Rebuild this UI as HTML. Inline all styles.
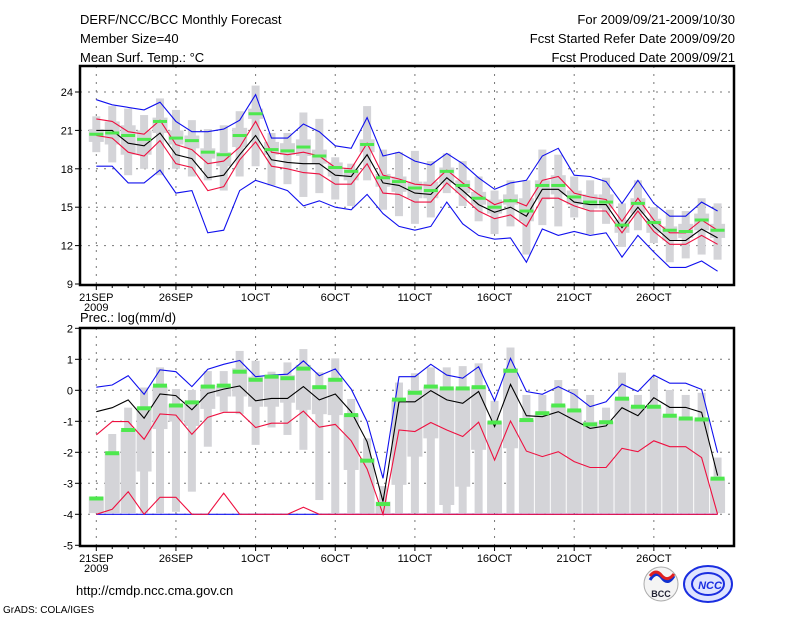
<!DOCTYPE html>
<html><head><meta charset="utf-8"><style>
html,body{margin:0;padding:0;background:#fff;}
svg{display:block;font-family:"Liberation Sans",sans-serif;}
</style></head><body>
<svg id="chart" width="800" height="618" viewBox="0 0 800 618" xmlns="http://www.w3.org/2000/svg">
<rect x="0" y="0" width="800" height="618" fill="#fff"/>
<g font-size="13" fill="#000">
<text x="80" y="24">DERF/NCC/BCC Monthly Forecast</text>
<text x="80" y="43">Member Size=40</text>
<text x="80" y="62">Mean Surf. Temp.: °C</text>
<text x="735" y="24" text-anchor="end">For 2009/09/21-2009/10/30</text>
<text x="735" y="43" text-anchor="end">Fcst Started Refer Date 2009/09/20</text>
<text x="735" y="62" text-anchor="end">Fcst Produced Date 2009/09/21</text>
<text x="80" y="322">Prec.: log(mm/d)</text>
<text x="76" y="595">http://cmdp.ncc.cma.gov.cn</text>
<text x="3" y="613" font-size="10">GrADS: COLA/IGES</text>
</g>
<g id="temp"></g>
<g id="prec"></g>
<g>
<circle cx="661" cy="584" r="17" fill="#f4f4f4" stroke="#aaa"/>
<path d="M650 580 q6 -10 12 -2 q6 8 12 -2" stroke="#1030d0" stroke-width="3" fill="none"/>
<path d="M650 576 q6 -8 12 0 q6 6 12 -2" stroke="#e02020" stroke-width="3" fill="none"/>
<text x="661" y="597" font-size="9" text-anchor="middle" font-weight="bold" fill="#223">BCC</text>
</g>
<g>
<ellipse cx="708" cy="584" rx="24" ry="18" fill="#dfe4ff" stroke="#1a2ee0" stroke-width="2"/>
<ellipse cx="708" cy="584" rx="16" ry="11" fill="none" stroke="#1a2ee0" stroke-width="2"/>
<text x="710" y="589" font-size="11" text-anchor="middle" font-weight="bold" font-style="italic" fill="#1a2ee0">NCC</text>
</g>
</svg>
<script>
// ---- temperature panel data ----
const days = 40;
const xTickLabels = ["21SEP","26SEP","1OCT","6OCT","11OCT","16OCT","21OCT","26OCT"];
const tempTicks = [9,12,15,18,21,24];
const tempBlueTop = [23.4,23.0,22.8,22.6,23.2,21.7,20.9,20.9,21.1,21.8,23.8,20.4,20.4,21.5,20.9,19.8,19.6,22.0,19.0,19.3,18.6,18.3,19.2,18.4,17.3,16.4,16.9,17.1,19.0,19.6,17.5,17.4,17.0,15.3,17.1,15.3,14.3,14.3,15.4,14.7];
const tempRedTop = [21.9,21.7,20.9,20.7,21.8,19.9,19.5,18.4,18.6,19.7,21.7,19.3,19.1,19.3,19.0,18.1,18.0,20.0,17.5,17.2,16.8,16.7,17.9,16.9,16.0,15.2,15.6,15.1,17.1,17.4,16.1,15.8,15.6,13.9,15.7,14.0,13.0,13.0,14.0,13.2];
const tempMean = [21.0,21.0,20.0,19.8,20.8,19.1,18.8,17.3,17.5,19.1,20.6,18.7,18.5,18.4,18.4,17.5,17.4,19.1,16.9,16.7,16.1,16.0,17.3,16.3,15.2,14.6,15.0,14.3,16.4,16.4,15.4,15.2,15.2,13.4,15.0,13.5,12.4,12.4,13.3,12.6];
const tempRedBot = [20.6,20.4,19.3,19.0,20.2,18.4,18.1,16.3,16.6,18.7,20.1,18.2,18.0,17.7,17.6,16.8,16.8,18.4,16.1,16.0,15.4,15.4,16.9,15.8,14.7,14.1,14.4,13.5,15.7,15.7,15.1,14.7,14.7,13.0,14.7,13.1,12.1,12.1,12.8,12.1];
const tempBlueBot = [18.2,18.2,16.9,16.9,17.9,16.1,16.3,13.0,13.2,16.3,17.1,16.7,16.3,15.1,15.5,15.0,14.8,16.0,14.5,13.5,13.2,13.5,15.4,13.7,12.8,12.5,12.6,10.7,13.3,12.8,13.1,12.8,13.0,11.1,12.8,11.5,10.3,10.3,10.8,10.0];
const tempGreen = [20.7,20.8,20.6,20.3,21.7,20.4,20.2,19.3,19.1,20.6,22.3,19.5,19.4,19.7,19.0,18.1,17.8,19.9,17.3,17.0,16.5,16.3,17.8,16.7,15.7,15.0,15.5,14.7,16.7,16.7,15.8,15.4,15.4,13.6,15.3,13.8,13.2,13.1,14.0,13.2];
const tempWhiskHi = [22.1,22.9,22.7,22.2,23.5,22.6,21.8,21.1,21.4,22.5,24.5,20.8,20.8,22.4,21.9,18.9,18.4,22.9,19.5,19.3,19.4,18.6,19.2,18.6,17.4,16.3,17.1,17.1,19.5,19.1,17.4,17.1,17.3,15.3,17.1,15.0,14.8,14.7,15.7,15.3];
const tempWhiskLo = [19.3,18.5,17.5,18.0,17.5,18.0,17.4,17.1,16.3,17.4,18.2,16.7,16.8,15.8,16.1,15.6,15.1,17.1,14.8,14.3,13.7,14.2,16.1,15.1,13.9,12.9,13.5,11.3,13.6,13.5,14.2,12.9,13.7,11.9,13.2,12.2,10.7,11.0,11.3,10.9];
const tempBoxHi = [21.1,21.7,21.4,21.0,22.0,21.0,20.6,19.6,19.3,21.2,22.7,20.1,20.0,20.3,19.5,18.5,18.0,20.3,17.6,17.4,17.0,17.0,18.1,17.1,16.2,15.6,16.0,15.7,17.1,17.5,16.3,16.0,16.0,14.0,15.7,14.1,13.5,13.7,14.5,13.7];
const tempBoxLo = [20.1,19.9,19.1,19.1,20.8,19.9,19.6,18.8,18.2,19.7,21.9,19.1,19.1,19.0,18.4,17.4,17.1,19.3,16.6,16.2,15.7,15.7,16.9,16.1,15.2,14.5,15.2,13.9,15.6,16.0,15.2,14.9,14.9,13.0,14.5,13.0,12.4,12.6,13.2,12.6];
// ---- precipitation panel data ----
const precTicks = [-5,-4,-3,-2,-1,0,1,2];
const precBlueTop = [0.10,0.17,0.47,-0.13,0.66,0.60,0.12,0.68,0.84,0.96,0.44,0.49,0.52,0.95,0.47,0.69,0.04,-1.01,-2.84,0.44,0.44,0.84,0.49,0.39,0.76,-0.34,1.03,-0.04,-0.13,0.12,-0.13,-0.53,-0.37,0.20,-0.04,0.49,0.23,0.23,0.03,-2.01];
const precMean = [-0.69,-0.56,-0.31,-0.90,-0.12,-0.17,-0.63,-0.10,0.04,0.14,-0.34,-0.26,-0.26,0.12,-0.31,-0.12,-0.69,-1.66,-3.59,-0.37,-0.37,-0.01,-0.31,-0.42,-0.04,-1.17,0.19,-0.82,-0.85,-0.69,-0.96,-1.23,-1.15,-0.56,-0.82,-0.24,-0.55,-0.55,-0.71,-2.75];
const precRedTop = [-1.44,-1.01,-1.01,-1.58,-0.76,-0.80,-1.42,-0.87,-0.71,-0.71,-1.20,-1.06,-1.06,-0.67,-1.19,-1.10,-1.63,-2.54,-4.0,-1.28,-1.33,-1.04,-1.28,-1.49,-1.03,-2.25,-0.99,-1.96,-2.14,-1.98,-2.30,-2.49,-2.49,-1.87,-1.98,-1.63,-1.82,-1.82,-2.17,-4.0];
const precRedBot = [-4,-3.84,-3.27,-4,-3.45,-3.45,-4,-4,-3.32,-4,-4,-4,-4,-3.77,-4,-4,-4,-4,-4,-4,-4,-4,-4,-4,-4,-4,-4,-4,-4,-4,-4,-4,-4,-4,-4,-4,-4,-4,-4,-4];
const precBlueBot = [-4,-4,-4,-4,-4,-4,-4,-4,-4,-4,-4,-4,-4,-4,-4,-4,-4,-4,-4,-4,-4,-4,-4,-4,-4,-4,-4,-4,-4,-4,-4,-4,-4,-4,-4,-4,-4,-4,-4,-4];
const precGreen = [-3.49,-2.03,-1.28,-0.58,0.15,-0.49,-0.39,0.12,0.15,0.60,0.34,0.44,0.39,0.70,0.10,0.34,-0.80,-2.27,-3.67,-0.30,-0.08,0.12,0.06,0.06,0.10,-1.04,0.63,-0.96,-0.74,-0.49,-0.65,-1.10,-1.03,-0.27,-0.53,-0.53,-0.82,-0.91,-0.94,-2.85];
const precWhiskHi = [-3.43,-1.41,-0.56,0.09,0.74,0.04,0.01,0.62,0.62,1.27,0.95,0.60,0.90,1.33,0.58,1.03,-0.28,-1.55,-3.09,0.25,0.55,0.74,0.74,0.78,0.87,-0.34,1.38,-0.15,-0.15,0.33,0.04,-0.15,-0.56,0.57,-0.15,0.39,0.01,-0.15,-0.08,-2.17];
const precWhiskLo = [-3.96,-3.96,-3.96,-3.96,-3.96,-3.92,-3.27,-1.82,-0.69,-0.77,-1.76,-1.2,-1.44,-1.92,-3.54,-3.96,-3.96,-3.96,-3.96,-3.96,-3.96,-3.96,-3.96,-3.96,-3.96,-3.96,-3.96,-3.96,-3.96,-3.96,-3.96,-3.96,-3.96,-3.96,-3.96,-3.96,-3.96,-3.96,-3.96,-3.96];
const precBoxHi = [-3.43,-2.03,-1.28,-0.53,0.12,-0.45,-0.34,0.17,0.14,0.71,0.44,0.49,0.49,0.82,0.15,0.39,-0.77,-2.19,-3.59,-0.31,0.01,0.12,0.06,0.06,0.12,-1.01,0.71,-0.96,-0.71,-0.47,-0.63,-1.01,-1.01,-0.26,-0.53,-0.53,-0.82,-0.90,-0.94,-2.84];
const precBoxLo = [-3.96,-3.96,-3.96,-2.62,-1.25,-1.01,-1.15,-0.60,-0.20,-0.20,-0.53,-0.53,-0.40,-0.63,-0.77,-0.80,-2.57,-3.96,-3.96,-3.05,-2.14,-1.55,-3.7,-3.11,-1.92,-3.96,-1.87,-3.96,-3.96,-3.96,-3.96,-3.96,-3.96,-3.96,-3.96,-3.96,-3.96,-3.96,-3.96,-3.96];

const NS = "http://www.w3.org/2000/svg";
const X0 = 80, X1 = 734;
function xScale(d){ return 96.3 + d * 15.93; }
function mk(parent, tag, attrs){ const e = document.createElementNS(NS, tag); for (const k in attrs) e.setAttribute(k, attrs[k]); parent.appendChild(e); return e; }

function drawPanel(g, cfg){
  const y = cfg.y;
  // grid
  cfg.ticks.forEach(function(t){
    const yy = y(t);
    if (yy > cfg.top + 1 && yy < cfg.bot - 1) {
      const l = mk(g, "line", {x1: X0, x2: X1, y1: yy, y2: yy, stroke: "#777", "stroke-width": 1, "stroke-dasharray": "2,6"});
      
      
    }
  });
  for (let i = 0; i < xTickLabels.length; i++) {
    const xx = xScale(i * 5);
    const l = mk(g, "line", {x1: xx, x2: xx, y1: cfg.top, y2: cfg.bot, stroke: "#777", "stroke-width": 1, "stroke-dasharray": "2,6"});
    
    
  }
  // bars
  for (let d = 0; d < days; d++) {
    const cx = xScale(d);
    const w = mk(g, "rect", {x: cx - 4, y: y(cfg.wHi[d]), width: 8, height: Math.max(1, y(cfg.wLo[d]) - y(cfg.wHi[d])), fill: "#d4d4d8"});
    
    
    const b = mk(g, "rect", {x: cx - 7.5, y: y(cfg.bHi[d]), width: 15, height: Math.max(1, y(cfg.bLo[d]) - y(cfg.bHi[d])), fill: "#d4d4d8"});
    
    
  }
  // lines
  cfg.lines.forEach(function(L){
    const pts = L.data.map(function(v, d){ return xScale(d).toFixed(1) + "," + y(v).toFixed(1); }).join(" ");
    const p = mk(g, "polyline", {points: pts, fill: "none", stroke: L.color, "stroke-width": 1.1});
    
    
  });
  // green markers
  for (let d = 0; d < days; d++) {
    const r = mk(g, "rect", {x: xScale(d) - 7, y: y(cfg.green[d]) - cfg.gh / 2, width: 14, height: cfg.gh, fill: "#4ee84e"});
    
    
  }
  // frame
  const f = mk(g, "rect", {x: X0, y: cfg.top, width: X1 - X0, height: cfg.bot - cfg.top, fill: "none", stroke: "#000", "stroke-width": 2.5});
  
  
  // y ticks
  cfg.ticks.forEach(function(t){
    const yy = y(t);
    const tk = mk(g, "line", {x1: X0 - 5, x2: X0, y1: yy, y2: yy, stroke: "#000"});
    
    
    const tx = mk(g, "text", {x: X0 - 7, y: yy + 4, "text-anchor": "end", "font-size": 11});
    tx.textContent = String(t);
    
    
  });
  // x ticks
  for (let d = 0; d < days; d++) {
    const xx = xScale(d);
    const big = d % 5 === 0;
    const tk = mk(g, "line", {x1: xx, x2: xx, y1: cfg.bot, y2: cfg.bot + (big ? 5 : 3), stroke: "#000"});
    
    
  }
  xTickLabels.forEach(function(lbl, i){
    const tx = mk(g, "text", {x: xScale(i * 5), y: cfg.bot + 16, "text-anchor": "middle", "font-size": 11});
    tx.textContent = lbl;
    
    
  });
  const yr = mk(g, "text", {x: xScale(0), y: cfg.bot + 26, "text-anchor": "middle", "font-size": 11});
  yr.textContent = "2009";
  
  
}

drawPanel(document.getElementById("temp"), {
  top: 66, bot: 285, ticks: tempTicks,
  y: function(v){ return 284 - (v - 9) * 12.8; },
  wHi: tempWhiskHi, wLo: tempWhiskLo, bHi: tempBoxHi, bLo: tempBoxLo, green: tempGreen, gh: 3,
  lines: [
    {data: tempBlueTop, color: "#1010ee", name: "temp-max-line"},
    {data: tempBlueBot, color: "#1010ee", name: "temp-min-line"},
    {data: tempRedTop, color: "#ee1040", name: "temp-upper-line"},
    {data: tempRedBot, color: "#ee1040", name: "temp-lower-line"},
    {data: tempMean, color: "#000", name: "temp-mean-line"}
  ]
});
drawPanel(document.getElementById("prec"), {
  top: 328, bot: 546, ticks: precTicks,
  y: function(v){ return 390.3 - 31 * v; },
  wHi: precWhiskHi, wLo: precWhiskLo, bHi: precBoxHi, bLo: precBoxLo, green: precGreen, gh: 4,
  lines: [
    {data: precBlueTop, color: "#1010ee", name: "prec-max-line"},
    {data: precBlueBot, color: "#1010ee", name: "prec-min-line"},
    {data: precRedTop, color: "#ee1040", name: "prec-upper-line"},
    {data: precRedBot, color: "#ee1040", name: "prec-lower-line"},
    {data: precMean, color: "#000", name: "prec-mean-line"}
  ]
});
</script>
</body></html>
